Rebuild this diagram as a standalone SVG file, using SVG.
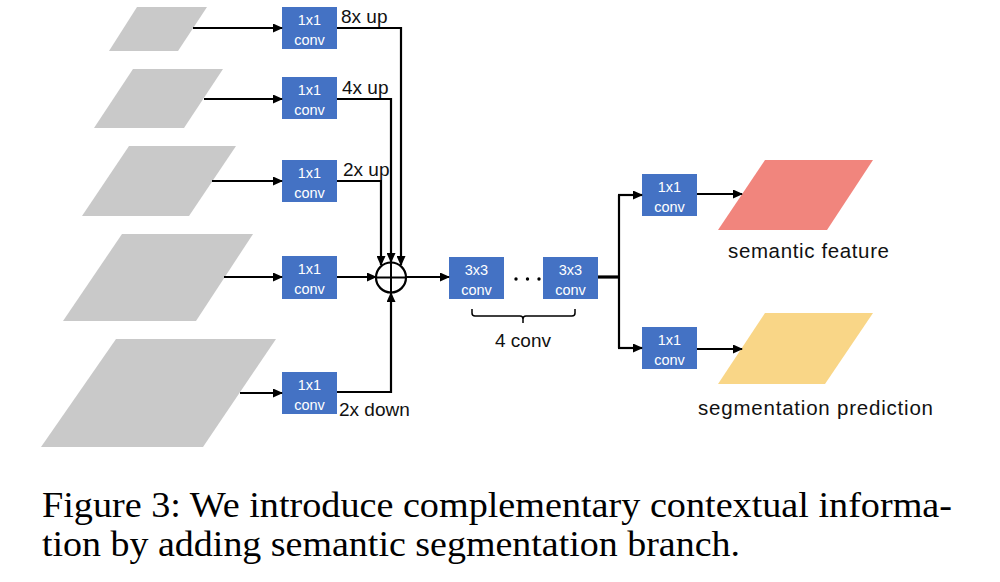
<svg xmlns="http://www.w3.org/2000/svg" width="1000" height="582" viewBox="0 0 1000 582">
<style>
.fm{fill:#C9C9C9}
.box{fill:#4472C4}
.bt{font-family:"Liberation Sans",Arial,sans-serif;font-size:14.5px;fill:#ffffff;text-anchor:middle}
.lb{font-family:"Liberation Sans",Arial,sans-serif;font-size:19px;fill:#111111}
.big{font-family:"Liberation Sans",Arial,sans-serif;font-size:20.5px;fill:#111111}
.cap{font-family:"Liberation Serif","Times New Roman",serif;font-size:35px;fill:#000000}
.ln{fill:none;stroke:#000000;stroke-width:2.2}
.ar{marker-end:url(#ah)}
</style>
<defs>
<marker id="ah" markerUnits="userSpaceOnUse" markerWidth="11" markerHeight="9" refX="9" refY="4.5" orient="auto">
<path d="M0,0 L10,4.5 L0,9 z" fill="#000000"/>
</marker>
</defs>
<rect width="1000" height="582" fill="#ffffff"/>

<g id="feature-maps">
<polygon class="fm" points="137,7 207,7 178,51 109,51"/>
<polygon class="fm" points="133,69 223,69 184,128 94,128"/>
<polygon class="fm" points="129,146 236,146 189,216 82,216"/>
<polygon class="fm" points="122,234 253,234 196,321 63,321"/>
<polygon class="fm" points="116,339 276,339 203,447 41,447"/>
</g>

<g id="conv1">
<rect class="box" x="282" y="7" width="55" height="42"/>
<text class="bt" x="309.5" y="25">1x1</text><text class="bt" x="309.5" y="45">conv</text>
</g>
<g id="conv2">
<rect class="box" x="282" y="77" width="55" height="42"/>
<text class="bt" x="309.5" y="95">1x1</text><text class="bt" x="309.5" y="115">conv</text>
</g>
<g id="conv3">
<rect class="box" x="282" y="160" width="55" height="42"/>
<text class="bt" x="309.5" y="178">1x1</text><text class="bt" x="309.5" y="198">conv</text>
</g>
<g id="conv4">
<rect class="box" x="282" y="256" width="55" height="43"/>
<text class="bt" x="309.5" y="274">1x1</text><text class="bt" x="309.5" y="294">conv</text>
</g>
<g id="conv5">
<rect class="box" x="282" y="372" width="55" height="42"/>
<text class="bt" x="309.5" y="390">1x1</text><text class="bt" x="309.5" y="410">conv</text>
</g>

<g id="sum">
<circle cx="391" cy="277.5" r="15" fill="#ffffff" stroke="#000000" stroke-width="2.2"/>
<line x1="376" y1="277.5" x2="406" y2="277.5" stroke="#000000" stroke-width="2"/>
<line x1="391" y1="262.5" x2="391" y2="292.5" stroke="#000000" stroke-width="2"/>
</g>

<g id="conv3x3a">
<rect class="box" x="449" y="257" width="55" height="42"/>
<text class="bt" x="476.5" y="275">3x3</text><text class="bt" x="476.5" y="295">conv</text>
</g>
<g id="dots">
<circle cx="516" cy="279" r="1.7" fill="#000"/>
<circle cx="527.5" cy="279" r="1.7" fill="#000"/>
<circle cx="539" cy="279" r="1.7" fill="#000"/>
</g>
<g id="conv3x3b">
<rect class="box" x="543" y="257" width="55" height="42"/>
<text class="bt" x="570.5" y="275">3x3</text><text class="bt" x="570.5" y="295">conv</text>
</g>
<g id="brace">
<path d="M472,309 L472,313 Q472,316 475,316 L520,316 Q523,316 523,319 L523,323 M523,319 Q523,316 526,316 L572,316 Q575,316 575,313 L575,309" fill="none" stroke="#000" stroke-width="1.5"/>
<text class="lb" x="523" y="347" text-anchor="middle">4 conv</text>
</g>

<g id="convTop">
<rect class="box" x="642" y="174" width="55" height="42"/>
<text class="bt" x="669.5" y="192">1x1</text><text class="bt" x="669.5" y="212">conv</text>
</g>
<g id="convBot">
<rect class="box" x="642" y="327" width="55" height="42"/>
<text class="bt" x="669.5" y="345">1x1</text><text class="bt" x="669.5" y="365">conv</text>
</g>

<g id="semantic-feature">
<polygon points="765,160 873,160 827,230 718,230" fill="#F1857D"/>
<text class="big" x="728" y="258" textLength="161" lengthAdjust="spacing">semantic feature</text>
</g>
<g id="segmentation-prediction">
<polygon points="765,313 873,313 825,384 718,384" fill="#F9D687"/>
<text class="big" x="698" y="415" textLength="235" lengthAdjust="spacing">segmentation prediction</text>
</g>

<g id="connectors">
<line class="ln ar" x1="193" y1="28" x2="282" y2="28"/>
<line class="ln ar" x1="204" y1="99" x2="282" y2="99"/>
<line class="ln ar" x1="212" y1="181" x2="282" y2="181"/>
<line class="ln ar" x1="224" y1="277" x2="282" y2="277"/>
<line class="ln ar" x1="240" y1="393" x2="282" y2="393"/>
<polyline class="ln ar" points="337,28 401,28 401,265"/>
<polyline class="ln ar" points="337,99 391,99 391,262"/>
<polyline class="ln ar" points="337,181 381,181 381,265"/>
<line class="ln ar" x1="337" y1="277" x2="376" y2="277"/>
<polyline class="ln ar" points="337,392 391,392 391,293"/>
<line class="ln ar" x1="406" y1="277" x2="449" y2="277"/>
<line x1="598" y1="277" x2="619" y2="277" stroke="#000" stroke-width="3.2"/>
<line class="ln" x1="619" y1="195" x2="619" y2="348"/>
<line class="ln ar" x1="618" y1="195" x2="642" y2="195"/>
<line class="ln ar" x1="618" y1="348" x2="642" y2="348"/>
<line class="ln ar" x1="697" y1="194" x2="742" y2="194"/>
<line class="ln ar" x1="697" y1="349" x2="742" y2="349"/>
</g>

<g id="labels">
<text class="lb" x="341" y="23">8x up</text>
<text class="lb" x="342" y="94">4x up</text>
<text class="lb" x="343" y="176">2x up</text>
<text class="lb" x="339" y="416">2x down</text>
</g>

<g id="caption">
<text class="cap" x="42" y="517" textLength="910" lengthAdjust="spacingAndGlyphs">Figure 3:  We introduce complementary contextual informa-</text>
<text class="cap" x="42" y="556" textLength="698" lengthAdjust="spacingAndGlyphs">tion by adding semantic segmentation branch.</text>
</g>
</svg>
